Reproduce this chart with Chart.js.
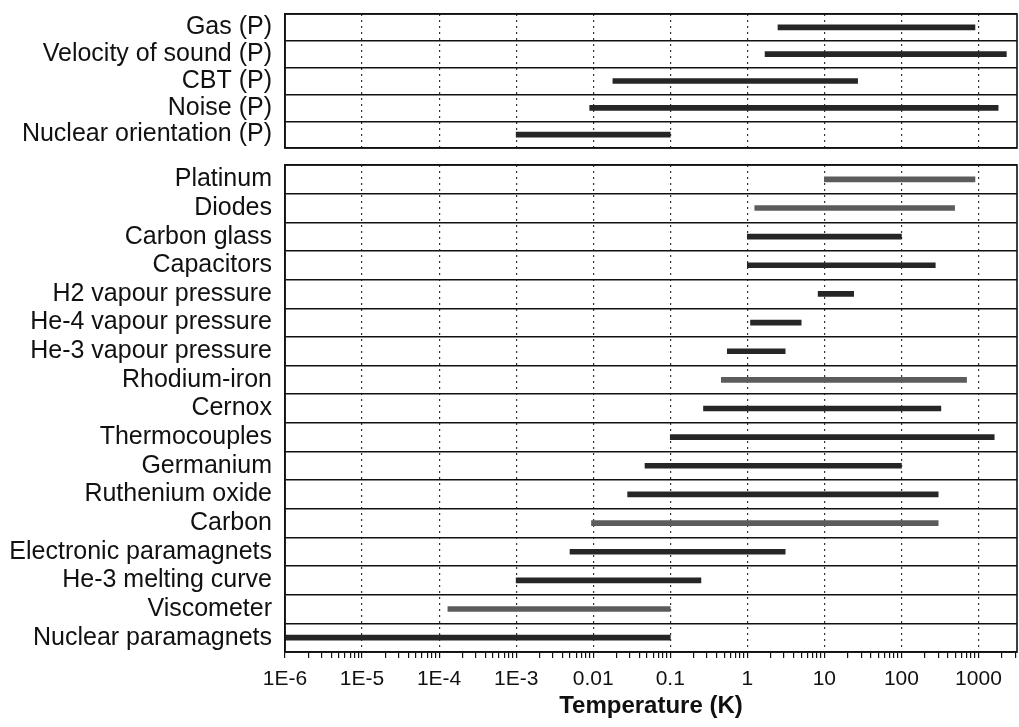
<!DOCTYPE html>
<html>
<head>
<meta charset="utf-8">
<script src="https://cdn.jsdelivr.net/npm/chart.js@4/dist/chart.umd.min.js"></script>
<style>
  body { margin: 0; background: #fff; }
  #wrap { position: relative; width: 1019px; height: 727px; }
  #topChart { position: absolute; left: 0; top: 0; }
  #bottomChart { position: absolute; left: 0; top: 150px; }
</style>
</head>
<body>
<div id="wrap">
  <canvas id="topChart" width="1019" height="150"></canvas>
  <canvas id="bottomChart" width="1019" height="577"></canvas>
</div>
<script>
// primary (P) thermometers
const topLabels = ['Gas (P)', 'Velocity of sound (P)', 'CBT (P)', 'Noise (P)', 'Nuclear orientation (P)'];
const topLow  = [2.5, 1.7, 0.018, 0.009, 0.001];
const topHigh = [900, 2300, 27, 1800, 0.1];

// secondary thermometers
const bottomLabels = ['Platinum', 'Diodes', 'Carbon glass', 'Capacitors', 'H2 vapour pressure',
  'He-4 vapour pressure', 'He-3 vapour pressure', 'Rhodium-iron', 'Cernox', 'Thermocouples',
  'Germanium', 'Ruthenium oxide', 'Carbon', 'Electronic paramagnets', 'He-3 melting curve',
  'Viscometer', 'Nuclear paramagnets'];
const bottomLow  = [10, 1.25, 1, 1, 8.3, 1.1, 0.55, 0.46, 0.27, 0.1, 0.047, 0.028, 0.0095, 0.005, 0.001, 0.00013, 0.000001];
const bottomHigh = [900, 490, 100, 275, 24, 5, 3.1, 700, 325, 1600, 100, 300, 300, 3.1, 0.25, 0.1, 0.1];

// x axis
const tickValues = [1e-6, 1e-5, 1e-4, 1e-3, 0.01, 0.1, 1, 10, 100, 1000];
const tickLabels = ['1E-6', '1E-5', '1E-4', '1E-3', '0.01', '0.1', '1', '10', '100', '1000'];
const xMin = 1e-6, xMax = 3162;

const dark = '#262626', light = '#5c5c5c';
const topColors = [dark, dark, dark, dark, dark];
const bottomColors = [light, light, dark, dark, dark, dark, dark, light, dark, dark, dark, dark, light, dark, dark, light, dark];

const font = "'Liberation Sans', Arial, sans-serif";
Chart.defaults.font.family = font;
Chart.defaults.color = '#111';

function isDecade(v) {
  let l = Math.log10(v);
  return Math.abs(l - Math.round(l)) < 1e-6;
}

function labelFor(v) {
  for (let i = 0; i < tickValues.length; i++) {
    if (Math.abs(Math.log10(v) - Math.log10(tickValues[i])) < 1e-6) return tickLabels[i];
  }
  return '';
}

// 1..9 in every decade, for the minor tick marks
function logTicks(scale) {
  let t = [];
  for (let e = -6; e <= 3; e++) {
    for (let m = 1; m <= 9; m++) {
      let v = m * Math.pow(10, e);
      if (v >= xMin && v <= xMax) t.push({value: v});
    }
  }
  scale.ticks = t;
}

const frame = {
  id: 'frame',
  afterDraw(chart) {
    const a = chart.chartArea, c = chart.ctx;
    c.save();
    c.strokeStyle = '#111';
    c.lineWidth = 1.6;
    c.strokeRect(a.left, a.top, a.right - a.left, a.bottom - a.top);
    c.restore();
  }
};

function makeChart(id, labels, low, high, colors, bottom) {
  let data = labels.map((l, i) => [low[i], high[i]]);
  return new Chart(document.getElementById(id), {
    type: 'bar',
    data: {
      labels: labels,
      datasets: [{
        data: data,
        backgroundColor: colors,
        borderWidth: 0,
        borderSkipped: false,
        barThickness: 5
      }]
    },
    options: {
      indexAxis: 'y',
      responsive: false,
      animation: false,
      devicePixelRatio: 1,
      layout: { padding: { top: bottom ? 15 : 14, right: 2, bottom: bottom ? 0 : 2, left: 0 } },
      plugins: { legend: { display: false }, tooltip: { enabled: false } },
      scales: {
        x: {
          type: 'logarithmic',
          min: xMin,
          max: xMax,
          afterBuildTicks: logTicks,
          afterFit: s => { s.height = bottom ? 75 : 0; s.paddingLeft = 0; s.paddingRight = 0; },
          grid: {
            color: c => (c.tick && isDecade(c.tick.value)) ? '#333' : 'rgba(0,0,0,0)',
            lineWidth: 1.2,
            drawTicks: bottom,
            tickColor: '#111',
            tickLength: 6,
            tickWidth: 1.2
          },
          border: { display: bottom, color: '#111', width: 1.6, dash: [2, 4] },
          ticks: {
            display: bottom,
            autoSkip: false,
            maxRotation: 0,
            padding: 9,
            font: { size: 21 },
            color: '#111',
            callback: v => labelFor(v)
          },
          title: {
            display: bottom,
            text: 'Temperature (K)',
            font: { size: 24, weight: 'bold' },
            color: '#111',
            padding: { top: 0, bottom: 6 }
          }
        },
        y: {
          afterFit: s => { s.width = 285; s.paddingTop = 0; s.paddingBottom = 0; },
          grid: { color: '#111', lineWidth: 1.4, drawTicks: false },
          border: { color: '#111', width: 1.6 },
          ticks: { autoSkip: false, padding: 13, font: { size: 25 }, color: '#111' }
        }
      }
    },
    plugins: [frame]
  });
}

makeChart('topChart', topLabels, topLow, topHigh, topColors, false);
makeChart('bottomChart', bottomLabels, bottomLow, bottomHigh, bottomColors, true);
</script>
</body>
</html>
